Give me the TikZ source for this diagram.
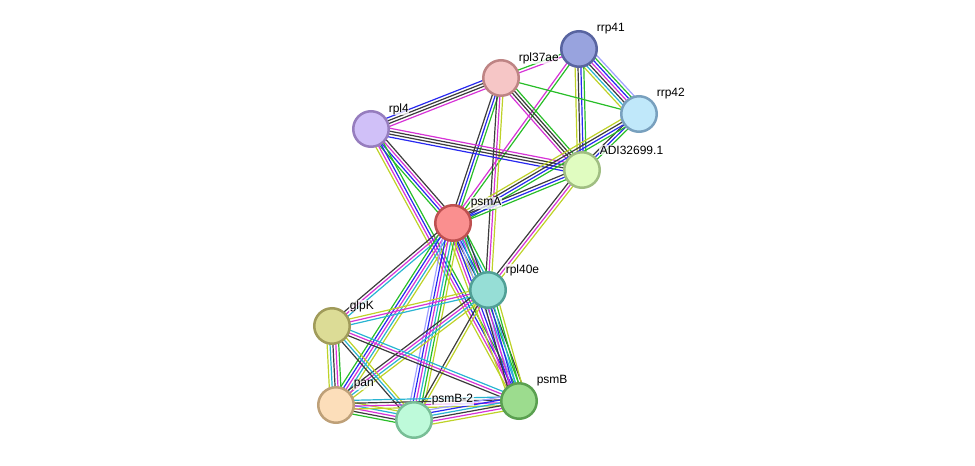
\documentclass[tikz,border=0pt]{standalone}
\usepackage{fontspec}
\setmainfont{Liberation Sans}
\usetikzlibrary{calc}
\pgfdeclarelayer{background}
\pgfsetlayers{background,main}
\definecolor{ecg}{RGB}{40,190,40}
\definecolor{ecm}{RGB}{214,50,214}
\definecolor{ecb}{RGB}{40,40,240}
\definecolor{eck}{RGB}{60,60,60}
\definecolor{ecc}{RGB}{40,180,210}
\definecolor{ecy}{RGB}{190,210,40}
\definecolor{ecl}{RGB}{160,160,255}
\newcount\mecnt
\newcommand{\medge}[3]{%
  \global\mecnt=0
  \foreach \ecol in {#3}{\global\advance\mecnt by 1}%
  \foreach \ecol [count=\ei] in {#3}{%
    \pgfmathsetmacro{\myoff}{(\ei-(\the\mecnt+1)/2)*2.9}%
    \draw[draw=\ecol, line width=1.2pt] ($(#1.center)!\myoff pt!90:(#2.center)$) -- ($(#2.center)!\myoff pt!-90:(#1.center)$);
  }}
\tikzset{
  prot/.style={circle, minimum size=35.5pt, inner sep=0pt, line width=2.5pt},
  lab/.style={anchor=west, inner sep=0.6pt, fill=white, fill opacity=0.75, text opacity=1, font=\fontsize{12}{14}\selectfont}
}
\begin{document}
\begin{tikzpicture}[x=1pt,y=-1pt]
\useasboundingbox (0,0) rectangle (975,466);
\node[prot, fill={rgb,255:red,152;green,163;blue,222}, draw={rgb,255:red,88;green,100;blue,160}] (rrp41) at (579,49) {};
\node[prot, fill={rgb,255:red,246;green,198;blue,198}, draw={rgb,255:red,190;green,132;blue,132}] (rpl37ae) at (501,78) {};
\node[prot, fill={rgb,255:red,192;green,232;blue,250}, draw={rgb,255:red,120;green,160;blue,190}] (rrp42) at (639,114) {};
\node[prot, fill={rgb,255:red,208;green,192;blue,248}, draw={rgb,255:red,150;green,125;blue,190}] (rpl4) at (371,129) {};
\node[prot, fill={rgb,255:red,224;green,252;blue,192}, draw={rgb,255:red,160;green,190;blue,130}] (adi) at (582,170) {};
\node[prot, fill={rgb,255:red,250;green,143;blue,143}, draw={rgb,255:red,190;green,80;blue,80}] (psmA) at (453,223) {};
\node[prot, fill={rgb,255:red,150;green,222;blue,214}, draw={rgb,255:red,80;green,160;blue,150}] (rpl40e) at (488,290) {};
\node[prot, fill={rgb,255:red,220;green,220;blue,150}, draw={rgb,255:red,160;green,155;blue,90}] (glpK) at (332,326) {};
\node[prot, fill={rgb,255:red,252;green,222;blue,186}, draw={rgb,255:red,190;green,160;blue,120}] (pan) at (336,405) {};
\node[prot, fill={rgb,255:red,190;green,250;blue,218}, draw={rgb,255:red,120;green,190;blue,150}] (psmB2) at (414,420) {};
\node[prot, fill={rgb,255:red,156;green,220;blue,142}, draw={rgb,255:red,90;green,160;blue,80}] (psmB) at (519,401) {};
\begin{pgfonlayer}{background}
\medge{rrp41}{rpl37ae}{ecg,ecm}
\medge{rrp41}{rrp42}{ecy,ecc,eck,ecm,ecb,ecg,ecl}
\medge{rrp41}{adi}{ecy,eck,ecb,ecg}
\medge{rrp41}{psmA}{ecm,ecg}
\medge{rpl37ae}{rrp42}{ecg}
\medge{rpl37ae}{rpl4}{ecb,eck,eck,ecm}
\medge{rpl37ae}{adi}{ecm,eck,eck,ecg}
\medge{rpl37ae}{psmA}{eck,ecb,ecg}
\medge{rpl37ae}{rpl40e}{eck,ecm,ecy}
\medge{rpl4}{adi}{ecb,eck,eck,ecm}
\medge{rpl4}{psmA}{ecg,ecb,ecm,eck}
\medge{rpl4}{psmB}{ecy,ecm,ecb,ecg}
\medge{rrp42}{adi}{eck,ecb,ecg}
\medge{rrp42}{psmA}{ecy,eck,ecb,ecg}
\medge{adi}{psmA}{eck,ecb,ecg}
\medge{adi}{rpl40e}{eck,ecm,ecy}
\medge{psmA}{rpl40e}{ecy,eck,ecb,ecm,ecc,ecg}
\medge{psmA}{psmB}{ecy,ecm,ecb,ecl,ecc,ecg,eck}
\medge{psmA}{glpK}{eck,ecm,ecc}
\medge{psmA}{pan}{ecg,ecb,ecm,ecc,ecy}
\medge{psmA}{psmB2}{ecl,ecb,ecm,ecc,ecg,ecy}
\medge{rpl40e}{glpK}{ecy,ecm,ecc}
\medge{rpl40e}{pan}{eck,ecm,ecc,ecy}
\medge{rpl40e}{psmB2}{eck,ecy}
\medge{rpl40e}{psmB}{eck,ecm,ecb,ecc,ecg,ecy}
\medge{glpK}{pan}{ecy,ecc,eck,ecm,ecg}
\medge{glpK}{psmB2}{eck,ecc,ecy}
\medge{glpK}{psmB}{eck,ecm,ecc}
\medge{pan}{psmB2}{ecg,eck,ecm,ecc,ecy}
\medge{pan}{psmB}{ecy,ecm,eck,ecc}
\medge{psmB2}{psmB}{ecy,ecm,eck,ecc,ecb,ecl}
\end{pgfonlayer}
\node[lab] (lrrp41) at (596,29) {rrp41};
\node[lab] (lrpl37ae) at (518,58) {rpl37ae};
\node[lab] (lrrp42) at (656,94) {rrp42};
\node[lab] (lrpl4) at (388,109) {rpl4};
\node[lab] (ladi) at (599,150) {ADI32699.1};
\node[lab] (lpsmA) at (470,203) {psmA};
\node[lab] (lrpl40e) at (505,270) {rpl40e};
\node[lab] (lglpK) at (349,306) {glpK};
\node[lab] (lpan) at (353,385) {pan};
\node[lab] (lpsmB2) at (431,400) {psmB-2};
\node[lab] (lpsmB) at (536,381) {psmB};
\end{tikzpicture}
\end{document}
